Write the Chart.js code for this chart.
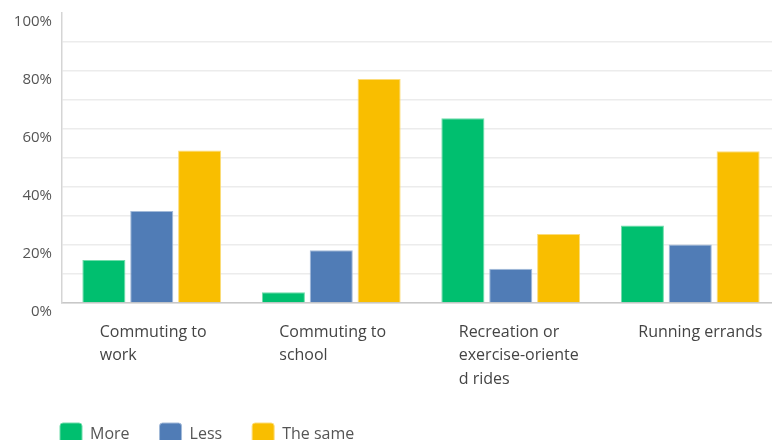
<!DOCTYPE html>
<html>
<head>
<meta charset="utf-8">
<script src="https://cdn.jsdelivr.net/npm/chart.js@4"></script>
<style>
    html, body { margin: 0; padding: 0; background: #fff; overflow: hidden; }
    canvas { display: block; }
</style>
</head>
<body>
<canvas id="chart" width="790" height="455"></canvas>
<script>
const categories = [
    ['Commuting to', 'work'],
    ['Commuting to', 'school'],
    ['Recreation or', 'exercise-oriente', 'd rides'],
    ['Running errands'],
];
const moreValues = [14.8, 3.7, 63.7, 26.7];
const lessValues = [31.7, 18.2, 11.8, 20.2];
const sameValues = [52.6, 77.2, 23.8, 52.3];
const yTicks = [0, 20, 40, 60, 80, 100];

const fontFamily = '"Open Sans", sans-serif';

// the legend sits under the plot, indented like the original
const legendIndent = {
    id: 'legendIndent',
    afterLayout(chart) {
        if (chart.legend) {
            chart.legend.left = 30;
        }
    },
};

const chart = new Chart(document.getElementById('chart'), {
    type: 'bar',
    data: {
        labels: categories,
        datasets: [
            { label: 'More', data: moreValues, backgroundColor: '#00bf6f', borderColor: '#6fdcaa', borderWidth: 1 },
            { label: 'Less', data: lessValues, backgroundColor: '#507cb6', borderColor: '#a3bad9', borderWidth: 1 },
            { label: 'The same', data: sameValues, backgroundColor: '#f9be00', borderColor: '#fcdc7a', borderWidth: 1 },
        ],
    },
    options: {
        responsive: false,
        animation: false,
        layout: {
            padding: { top: 13, right: 10, left: 0, bottom: 0 },
        },
        plugins: {
            legend: {
                position: 'bottom',
                align: 'start',
                labels: {
                    boxWidth: 22,
                    boxHeight: 22,
                    useBorderRadius: true,
                    borderRadius: 3,
                    padding: 30,
                    color: '#555',
                    font: { family: fontFamily, size: 16 },
                },
            },
            tooltip: { enabled: false },
        },
        scales: {
            x: {
                grid: { display: false },
                border: { color: '#c8c8c8', width: 1.5 },
                ticks: {
                    color: '#444',
                    maxRotation: 0,
                    autoSkip: false,
                    align: 'start',
                    padding: 10,
                    labelOffset: -52,
                    font: { family: fontFamily, size: 16, lineHeight: 1.45 },
                },
                afterFit(scale) {
                    scale.height = 90;
                    scale.paddingLeft = 0;
                    scale.paddingRight = 0;
                },
            },
            y: {
                min: 0,
                max: 100,
                border: { color: '#d5d5d5', width: 1.5 },
                grid: {
                    color: (ctx) => (ctx.tick && ctx.tick.value === 100 ? 'rgba(0,0,0,0)' : '#ececec'),
                    lineWidth: 1.5,
                    drawTicks: false,
                },
                ticks: {
                    stepSize: 10,
                    padding: 10,
                    labelOffset: 9,
                    color: '#555',
                    font: { family: fontFamily, size: 15 },
                    callback(value) {
                        return yTicks.includes(value) ? `${value}%` : '';
                    },
                },
                afterFit(scale) {
                    scale.width = 62;
                    scale.paddingTop = 0;
                    scale.paddingBottom = 0;
                },
            },
        },
    },
    plugins: [legendIndent],
});
</script>
</body>
</html>
